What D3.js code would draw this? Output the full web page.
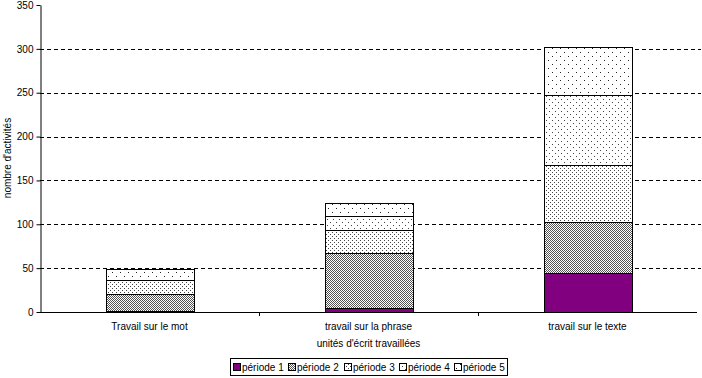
<!DOCTYPE html>
<html><head><meta charset="utf-8">
<script src="https://cdn.jsdelivr.net/npm/d3@7/dist/d3.min.js"></script>
<style>
body{margin:0;background:#fff;}
svg{display:block;font-family:"Liberation Sans",Arial,sans-serif;}
</style></head>
<body><svg id="c" width="702" height="378"></svg>
<script>
const categories = ["Travail sur le mot", "travail sur la phrase", "travail sur le texte"];
const seriesNames = ["période 1", "période 2", "période 3", "période 4", "période 5"];
const periode1 = [1, 5, 45];
const periode2 = [20, 62, 58];
const periode3 = [15, 26, 65];
const periode4 = [1, 16, 79];
const periode5 = [12, 15, 55];
const yTicks = [0, 50, 100, 150, 200, 250, 300, 350];
const yTitle = "nombre d'activités";
const xTitle = "unités d'écrit travaillées";

(function () {
const seriesValues = [periode1, periode2, periode3, periode4, periode5];
const table = categories.map((c, i) => {
  const o = {cat: c};
  seriesNames.forEach((s, j) => o[s] = seriesValues[j][i]);
  return o;
});

const svg = d3.select("#c");
const defs = svg.append("defs");
function dotPattern(id, size, pts, color) {
  const p = defs.append("pattern").attr("id", id).attr("patternUnits", "userSpaceOnUse")
    .attr("width", size).attr("height", size);
  p.append("rect").attr("width", size).attr("height", size).attr("fill", "#fff");
  pts.forEach(([px, py]) => p.append("rect").attr("x", px).attr("y", py).attr("width", 1).attr("height", 1).attr("fill", color));
}
dotPattern("p2", 2, [[0, 0], [1, 1]], "#555");
dotPattern("p3", 4, [[0, 0], [2, 2]], "#444");
dotPattern("p4", 6, [[0, 0], [3, 3]], "#444");
dotPattern("p5", 8, [[0, 0], [4, 4]], "#222");
const fills = ["#800080", "url(#p2)", "url(#p3)", "url(#p4)", "url(#p5)"];

const mLeft = 40, mRight = 697, mTop = 5, mBottom = 312;
const x = d3.scaleBand().domain(categories).range([mLeft, mRight]);
const y = d3.scaleLinear().domain([0, 350]).range([mBottom, mTop]);

svg.append("g").selectAll("line").data(yTicks.filter(t => t > 0 && t < 350)).join("line")
  .attr("x1", mLeft).attr("x2", 701).attr("y1", d => Math.round(y(d)) + 0.5).attr("y2", d => Math.round(y(d)) + 0.5)
  .attr("stroke", "#000").attr("stroke-dasharray", "4,3").attr("stroke-width", 1);

const stack = d3.stack().keys(seriesNames)(table);
const bw = x.bandwidth() * 0.4;
svg.append("g").selectAll("g").data(stack).join("g")
  .attr("fill", (d, i) => fills[i])
  .selectAll("rect").data(d => d).join("rect")
  .attr("x", d => Math.round(x(d.data.cat) + x.bandwidth() * 0.3) + 0.5)
  .attr("width", Math.round(bw))
  .attr("y", d => Math.round(y(d[1])) + 0.5)
  .attr("height", d => Math.max(0, Math.round(y(d[0])) - Math.round(y(d[1]))))
  .attr("stroke", "#000").attr("stroke-width", 1);

const yAxis = d3.axisLeft(y).tickValues(yTicks).tickSize(4).tickSizeOuter(0);
const gy = svg.append("g").attr("transform", `translate(${mLeft + 0.5},0)`).call(yAxis);
gy.select(".domain").attr("stroke", "#000");
gy.selectAll(".tick line").attr("stroke", "#000");
gy.selectAll("text").attr("font-size", 10).attr("fill", "#000").attr("x", -7).attr("font-family", "Liberation Sans, Arial, sans-serif");

const xAxis = d3.axisBottom(x).tickSize(0).tickSizeOuter(0);
const gx = svg.append("g").attr("transform", `translate(0,${mBottom + 0.5})`).call(xAxis);
gx.select(".domain").attr("stroke", "#000").attr("d", `M${mLeft},0H${mRight}`);
gx.selectAll(".tick line").remove();
gx.selectAll("text").attr("font-size", 10).attr("fill", "#000").attr("dy", "0.71em").attr("y", 10)
  .attr("font-family", "Liberation Sans, Arial, sans-serif");
svg.append("g").selectAll("line").data(categories.slice(1)).join("line")
  .attr("x1", d => Math.round(x(d)) + 0.5).attr("x2", d => Math.round(x(d)) + 0.5)
  .attr("y1", mBottom).attr("y2", mBottom + 4).attr("stroke", "#000");

svg.append("text").attr("x", (mLeft + mRight) / 2).attr("y", 347).attr("text-anchor", "middle")
  .attr("font-size", 10).text(xTitle);
svg.append("text").attr("transform", `translate(11,158) rotate(-90)`).attr("text-anchor", "middle")
  .attr("font-size", 10).text(yTitle);

const lg = svg.append("g");
lg.append("rect").attr("x", 230.5).attr("y", 358.5).attr("width", 277).attr("height", 17)
  .attr("fill", "#fff").attr("stroke", "#000");
const itemX = [233, 288, 344, 399, 454];
seriesNames.forEach((s, i) => {
  lg.append("rect").attr("x", itemX[i] + 0.5).attr("y", 363.5).attr("width", 7).attr("height", 7)
    .attr("fill", fills[i]).attr("stroke", "#000");
  lg.append("text").attr("x", itemX[i] + 9).attr("y", 371).attr("font-size", 10).text(s);
});
})();
</script></body></html>
